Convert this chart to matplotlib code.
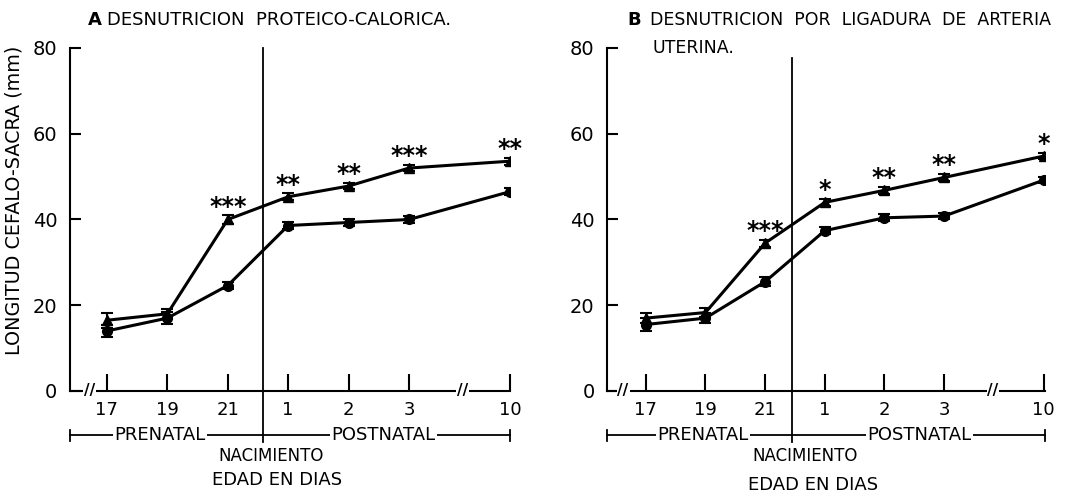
import matplotlib
matplotlib.use("Agg")
import matplotlib.pyplot as plt
import numpy as np

plt.rcParams['font.family'] = ['DejaVu Sans']

# age ticks (17,19,21 prenatal days; 1,2,3,10 postnatal days)
day_labels = ['17', '19', '21', '1', '2', '3', '10']
day_pos = [0, 1, 2, 3, 4, 5, 6.67]

# A: protein-calorie malnutrition
a_control = [16.5, 18.0, 40.0, 45.3, 47.8, 52.0, 53.6]
a_control_err = [1.8, 1.2, 1.0, 0.8, 0.8, 0.8, 0.8]
a_malnut = [14.0, 17.0, 24.6, 38.6, 39.3, 40.0, 46.5]
a_malnut_err = [1.5, 1.4, 0.8, 0.8, 0.8, 0.8, 0.8]
a_stars = ['', '', '***', '**', '**', '***', '**']

# B: uterine artery ligation
b_control = [17.0, 18.3, 34.5, 44.0, 46.8, 49.8, 54.8]
b_control_err = [1.2, 1.0, 0.8, 0.8, 0.8, 0.8, 0.8]
b_malnut = [15.5, 17.0, 25.5, 37.4, 40.4, 40.8, 49.2]
b_malnut_err = [1.5, 1.2, 1.0, 0.8, 0.8, 0.8, 0.8]
b_stars = ['', '', '***', '*', '**', '**', '*']

W, H = 1086, 495
fig = plt.figure(figsize=(W / 100, H / 100), dpi=100)


def px_axes(x0, x1, ytop, ybot):
    return fig.add_axes([x0 / W, (H - ybot) / H, (x1 - x0) / W, (ybot - ytop) / H])


def panel(ax, xmin, xmax, birth, birth_top, control, cerr, malnut, merr, stars,
          brk, pre_x, post_x, nac_x, edad_x, edad_y):
    ax.errorbar(day_pos, control, yerr=cerr, color='black', lw=2.2,
                marker='^', ms=7, capsize=4, elinewidth=1.5, capthick=1.5,
                zorder=3)
    ax.errorbar(day_pos, malnut, yerr=merr, color='black', lw=2.2,
                marker='o', ms=7, capsize=4, elinewidth=1.5, capthick=1.5,
                zorder=3)
    for x, y, s in zip(day_pos, control, stars):
        if s:
            ax.text(x, y + 2.8, s, ha='center', va='center', fontsize=17,
                    fontweight='bold', clip_on=False)

    ax.set_xlim(xmin, xmax)
    ax.set_ylim(0, 80)
    for side in ['top', 'right']:
        ax.spines[side].set_visible(False)
    ax.spines['left'].set_linewidth(1.5)
    ax.spines['bottom'].set_linewidth(1.5)
    ax.set_yticks([0, 20, 40, 60, 80])
    ax.set_xticks(day_pos)
    ax.set_xticklabels(day_labels)
    ax.tick_params(axis='y', direction='in', length=8, width=1.5, pad=9,
                   labelsize=14)
    ax.tick_params(axis='x', direction='in', length=12, width=1.5, pad=7,
                   labelsize=13)

    # birth line
    ax.plot([birth, birth], [-12.0, birth_top], color='black', lw=1.3,
            clip_on=False, zorder=2)

    # axis breaks
    for b in brk:
        ax.text(b, 0, '//', ha='center', va='center', fontsize=11,
                fontweight='bold', clip_on=False, zorder=4,
                bbox=dict(facecolor='white', edgecolor='none', pad=0.5))

    # prenatal / postnatal bracket
    yb = -10.3
    ax.plot([xmin, xmax], [yb, yb], color='black', lw=1.3, clip_on=False)
    for xe in (xmin, xmax):
        ax.plot([xe, xe], [yb - 1.3, yb + 1.3], color='black', lw=1.3,
                clip_on=False)
    ax.text(pre_x, yb, 'PRENATAL', ha='center', va='center',
            fontsize=13, clip_on=False,
            bbox=dict(facecolor='white', edgecolor='none', pad=1))
    ax.text(post_x, yb, 'POSTNATAL', ha='center', va='center',
            fontsize=13, clip_on=False,
            bbox=dict(facecolor='white', edgecolor='none', pad=1))
    ax.text(nac_x, -15.2, 'NACIMIENTO', ha='center', va='center',
            fontsize=12, clip_on=False)
    ax.text(edad_x, edad_y, 'EDAD EN DIAS', ha='center', va='center',
            fontsize=13, clip_on=False)


ax_a = px_axes(70, 510, 48, 391)
panel(ax_a, -0.61, 6.67, 2.58, 80, a_control, a_control_err, a_malnut,
      a_malnut_err, a_stars, (-0.29, 5.88),
      0.88, 4.58, 2.72, 2.81, -20.7)

ax_b = px_axes(607, 1045, 48, 391)
panel(ax_b, -0.65, 6.69, 2.45, 77.7, b_control, b_control_err, b_malnut,
      b_malnut_err, b_stars, (-0.38, 5.82),
      0.96, 4.58, 2.67, 2.80, -21.9)

fig.text(14 / W, 1 - 200 / H, 'LONGITUD CEFALO-SACRA (mm)', rotation=90,
         ha='center', va='center', fontsize=13.8)

fig.text(88 / W, 1 - 20 / H, 'A', ha='left', va='center', fontsize=13,
         fontweight='bold')
fig.text(107 / W, 1 - 20 / H, 'DESNUTRICION  PROTEICO-CALORICA.', ha='left',
         va='center', fontsize=13)
fig.text(627 / W, 1 - 20 / H, 'B', ha='left', va='center', fontsize=13,
         fontweight='bold')
fig.text(650 / W, 1 - 20 / H, 'DESNUTRICION  POR  LIGADURA  DE  ARTERIA',
         ha='left', va='center', fontsize=12.5)
fig.text(652 / W, 1 - 48 / H, 'UTERINA.', ha='left', va='center',
         fontsize=12.5)

fig.savefig('out.png', dpi=100)
